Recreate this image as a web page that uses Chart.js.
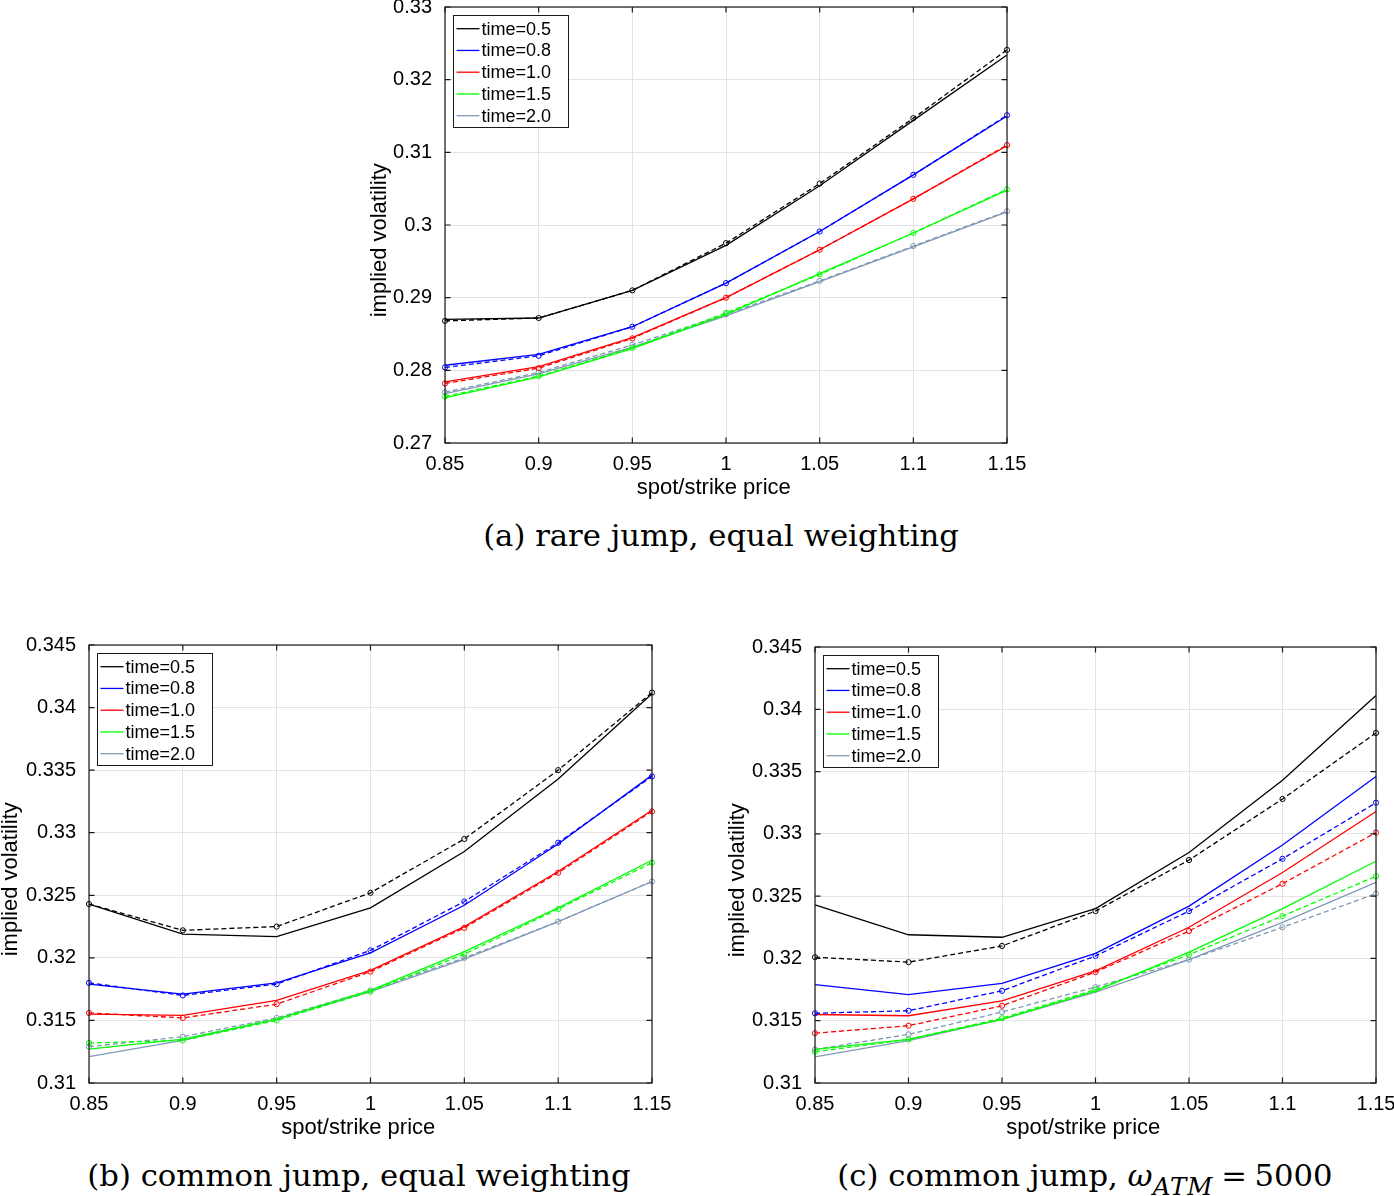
<!DOCTYPE html>
<html><head><meta charset="utf-8">
<script src="https://cdn.jsdelivr.net/npm/chart.js@4.4.1/dist/chart.umd.min.js"></script>
<style>
html,body{margin:0;padding:0;background:#fff;width:1394px;height:1196px;overflow:hidden;position:relative}
canvas{position:absolute}
.cap{position:absolute;font-family:'DejaVu Serif',serif;font-size:30.7px;line-height:1;white-space:nowrap;color:#000;text-align:center;width:600px}
.cap sub{font-size:0.8em;vertical-align:-0.35em;line-height:0;letter-spacing:0.04em}
.cap .eq{margin:0 0.25em}
</style></head><body>
<canvas id="ca" width="671" height="499" style="left:369px;top:0px"></canvas>
<canvas id="cb" width="700" height="509" style="left:0px;top:630px"></canvas>
<canvas id="cc" width="667" height="509" style="left:727px;top:630px"></canvas>
<div class="cap" style="left:421px;top:521px">(a) rare jump, equal weighting</div>
<div class="cap" style="left:59px;top:1161px">(b) common jump, equal weighting</div>
<div class="cap" style="left:785px;top:1161px">(c) common jump, <i>ω</i><sub><i>ATM</i></sub><span class="eq">=</span>5000</div>
<script>
// ---- categories / tick labels ----
const spotStrike = [0.85, 0.9, 0.95, 1.0, 1.05, 1.1, 1.15];
const xTickLabels = ['0.85', '0.9', '0.95', '1', '1.05', '1.1', '1.15'];
const timeLabels = ['time=0.5', 'time=0.8', 'time=1.0', 'time=1.5', 'time=2.0'];
const yTicksA = [0.27, 0.28, 0.29, 0.30, 0.31, 0.32, 0.33];
const yTickLabelsA = ['0.27', '0.28', '0.29', '0.3', '0.31', '0.32', '0.33'];
const yTicksBC = [0.31, 0.315, 0.32, 0.325, 0.33, 0.335, 0.34, 0.345];
const yTickLabelsBC = ['0.31', '0.315', '0.32', '0.325', '0.33', '0.335', '0.34', '0.345'];

// ---- (a) rare jump, equal weighting: market (solid) ----
const rareMkt05 = [0.2870, 0.2872, 0.2910, 0.2972, 0.3054, 0.3144, 0.3234];
const rareMkt08 = [0.2807, 0.2822, 0.2860, 0.2920, 0.2991, 0.3069, 0.3150];
const rareMkt10 = [0.2784, 0.2805, 0.2845, 0.2900, 0.2966, 0.3036, 0.3109];
const rareMkt15 = [0.2762, 0.2791, 0.2830, 0.2877, 0.2933, 0.2989, 0.3048];
const rareMkt20 = [0.2768, 0.2795, 0.2832, 0.2875, 0.2922, 0.2970, 0.3018];
// ---- (a) model (dashed, circles) ----
const rareFit05 = [0.2868, 0.2872, 0.2910, 0.2975, 0.3057, 0.3147, 0.3241];
const rareFit08 = [0.2804, 0.2820, 0.2860, 0.2920, 0.2991, 0.3069, 0.3151];
const rareFit10 = [0.2782, 0.2803, 0.2844, 0.2900, 0.2966, 0.3036, 0.3110];
const rareFit15 = [0.2764, 0.2792, 0.2831, 0.2879, 0.2932, 0.2989, 0.3049];
const rareFit20 = [0.2770, 0.2797, 0.2835, 0.2877, 0.2923, 0.2971, 0.3019];

// ---- (b),(c) common jump: market (solid) ----
const comMkt05 = [0.3243, 0.3219, 0.3217, 0.3240, 0.3285, 0.3343, 0.3411];
const comMkt08 = [0.3179, 0.3171, 0.3180, 0.3204, 0.3242, 0.3291, 0.3346];
const comMkt10 = [0.3155, 0.3154, 0.3166, 0.3190, 0.3225, 0.3269, 0.3318];
const comMkt15 = [0.3127, 0.3135, 0.3151, 0.3174, 0.3205, 0.3240, 0.3278];
const comMkt20 = [0.3121, 0.3134, 0.3151, 0.3173, 0.3199, 0.3229, 0.3261];
// ---- (b) model, equal weighting ----
const eqFit05 = [0.3243, 0.3222, 0.3225, 0.3252, 0.3295, 0.3350, 0.3412];
const eqFit08 = [0.3180, 0.3170, 0.3179, 0.3206, 0.3245, 0.3292, 0.3345];
const eqFit10 = [0.3156, 0.3152, 0.3163, 0.3189, 0.3224, 0.3268, 0.3317];
const eqFit15 = [0.3132, 0.3134, 0.3150, 0.3173, 0.3203, 0.3239, 0.3276];
const eqFit20 = [0.3129, 0.3137, 0.3152, 0.3174, 0.3200, 0.3229, 0.3261];
// ---- (c) model, omega_ATM = 5000 ----
const atmFit05 = [0.3201, 0.3197, 0.3210, 0.3238, 0.3279, 0.3328, 0.3381];
const atmFit08 = [0.3156, 0.3158, 0.3174, 0.3202, 0.3238, 0.3280, 0.3325];
const atmFit10 = [0.3140, 0.3146, 0.3162, 0.3189, 0.3222, 0.3260, 0.3301];
const atmFit15 = [0.3125, 0.3135, 0.3152, 0.3175, 0.3203, 0.3234, 0.3266];
const atmFit20 = [0.3127, 0.3139, 0.3157, 0.3177, 0.3199, 0.3225, 0.3252];

const seriesColors = ['#000000', '#0000ff', '#ff0000', '#00ff00', '#8199b5'];

Chart.defaults.font.family = "'Liberation Sans', Arial, Helvetica, sans-serif";
Chart.defaults.color = '#000';

const boxPlugin = {
  id: 'matlabBox',
  afterDatasetsDraw(chart) {
    const {ctx, chartArea: a, scales: {x, y}} = chart;
    ctx.save();
    ctx.strokeStyle = '#1a1a1a';
    ctx.lineWidth = 1.2;
    ctx.strokeRect(a.left, a.top, a.right - a.left, a.bottom - a.top);
    const tl = 5.5;
    ctx.beginPath();
    x.ticks.forEach(t => {
      const px = x.getPixelForValue(t.value);
      ctx.moveTo(px, a.bottom); ctx.lineTo(px, a.bottom - tl);
      ctx.moveTo(px, a.top); ctx.lineTo(px, a.top + tl);
    });
    y.ticks.forEach(t => {
      const py = y.getPixelForValue(t.value);
      ctx.moveTo(a.left, py); ctx.lineTo(a.left + tl, py);
      ctx.moveTo(a.right, py); ctx.lineTo(a.right - tl, py);
    });
    ctx.stroke();
    // legend box
    const items = chart.data.datasets.filter(d => !d.isModel);
    const bx = a.left + 8, by = a.top + 8, bw = 115, bh = 112;
    ctx.fillStyle = '#fff';
    ctx.fillRect(bx, by, bw, bh);
    ctx.lineWidth = 1;
    ctx.strokeStyle = '#1a1a1a';
    ctx.strokeRect(bx + 0.5, by + 0.5, bw, bh);
    ctx.font = "18px 'Liberation Sans', Arial, sans-serif";
    ctx.textBaseline = 'middle';
    ctx.textAlign = 'left';
    items.forEach((d, i) => {
      const cy = by + 13.7 + i * 21.75;
      ctx.strokeStyle = d.borderColor;
      ctx.lineWidth = 1.3;
      ctx.beginPath();
      ctx.moveTo(bx + 3.5, cy); ctx.lineTo(bx + 26.5, cy);
      ctx.stroke();
      ctx.fillStyle = '#000';
      ctx.fillText(d.label, bx + 28.5, cy + 1);
    });
    ctx.restore();
  }
};

function makeChart(id, solid, dashed, yMin, yMax, yTicks, yTickLabels, yW, pad) {
  const datasets = [];
  solid.forEach((arr, i) => {
    datasets.push({
      label: timeLabels[i],
      data: spotStrike.map((xv, j) => ({x: xv, y: arr[j]})),
      borderColor: seriesColors[i], backgroundColor: seriesColors[i],
      borderWidth: 1.3, pointRadius: 0, tension: 0, fill: false, clip: false
    });
    datasets.push({
      label: timeLabels[i] + ' (model)', isModel: true,
      data: spotStrike.map((xv, j) => ({x: xv, y: dashed[i][j]})),
      borderColor: seriesColors[i], backgroundColor: seriesColors[i],
      borderWidth: 1.3, borderDash: [5, 3], tension: 0, fill: false, clip: false,
      pointRadius: 2.6, pointBorderWidth: 1, pointBorderColor: seriesColors[i],
      pointBackgroundColor: 'rgba(255,255,255,0)', pointStyle: 'circle'
    });
  });
  return new Chart(document.getElementById(id), {
    type: 'line',
    data: {datasets},
    plugins: [boxPlugin],
    options: {
      responsive: false, animation: false, devicePixelRatio: 1, events: [],
      layout: {padding: pad},
      plugins: {legend: {display: false}, tooltip: {enabled: false}},
      scales: {
        x: {
          type: 'linear', min: 0.85, max: 1.15,
          afterBuildTicks: s => { s.ticks = spotStrike.map(v => ({value: v})); },
          afterFit: s => { s.height = 56; s.paddingLeft = 0; s.paddingRight = 0; },
          ticks: {autoSkip: false, maxRotation: 0, padding: 9, font: {size: 20}, color: '#000',
                  callback: (v, i) => xTickLabels[i]},
          grid: {color: '#e3e3e3', lineWidth: 1, drawTicks: false},
          border: {display: false},
          title: {display: true, text: 'spot/strike price    ', font: {size: 22, lineHeight: 1}, padding: 0, color: '#000'}
        },
        y: {
          type: 'linear', min: yMin, max: yMax,
          afterBuildTicks: s => { s.ticks = yTicks.map(v => ({value: v})); },
          afterFit: s => { s.width = yW; s.paddingTop = 0; s.paddingBottom = 0; },
          ticks: {autoSkip: false, padding: 13, font: {size: 20}, color: '#000',
                  callback: (v, i) => yTickLabels[i]},
          grid: {color: '#e3e3e3', lineWidth: 1, drawTicks: false},
          border: {display: false},
          title: {display: true, text: 'implied volatility     ', font: {size: 22, lineHeight: 1}, padding: 0, color: '#000'}
        }
      }
    }
  });
}

makeChart('ca',
  [rareMkt05, rareMkt08, rareMkt10, rareMkt15, rareMkt20],
  [rareFit05, rareFit08, rareFit10, rareFit15, rareFit20],
  0.27, 0.33, yTicksA, yTickLabelsA, 76, {left: 0, top: 7, right: 33, bottom: 0});
makeChart('cb',
  [comMkt05, comMkt08, comMkt10, comMkt15, comMkt20],
  [eqFit05, eqFit08, eqFit10, eqFit15, eqFit20],
  0.31, 0.345, yTicksBC, yTickLabelsBC, 89, {left: 0, top: 15, right: 48, bottom: 0});
makeChart('cc',
  [comMkt05, comMkt08, comMkt10, comMkt15, comMkt20],
  [atmFit05, atmFit08, atmFit10, atmFit15, atmFit20],
  0.31, 0.345, yTicksBC, yTickLabelsBC, 88, {left: 0, top: 17, right: 18, bottom: 0});
</script>
</body></html>
